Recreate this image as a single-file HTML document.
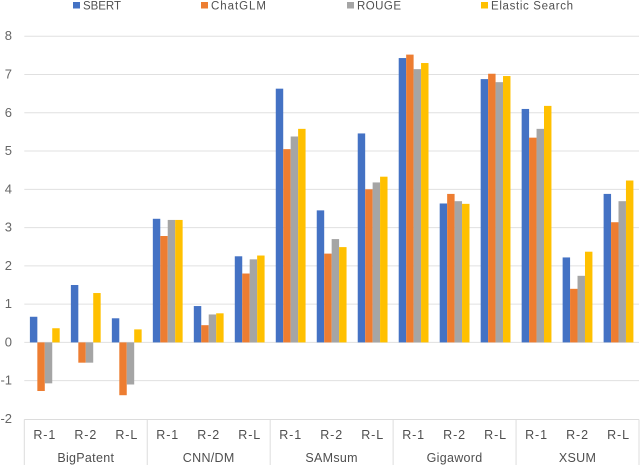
<!DOCTYPE html>
<html>
<head>
<meta charset="utf-8">
<style>
html,body{margin:0;padding:0;background:#fff;width:640px;height:465px;overflow:hidden}
svg{display:block;filter:blur(0.3px)}
text{font-family:"Liberation Sans",sans-serif}
</style>
</head>
<body>
<svg id="chart" xmlns="http://www.w3.org/2000/svg" width="640" height="465" viewBox="0 0 640 465"></svg>
<script>
const groups = ['BigPatent', 'CNN/DM', 'SAMsum', 'Gigaword', 'XSUM'];
const metrics = ['R-1', 'R-2', 'R-L'];
const seriesNames = ['SBERT', 'ChatGLM', 'ROUGE', 'Elastic Search'];
const seriesColors = ['#4472c4', '#ed7d31', '#a5a5a5', '#ffc000'];
const yTicks = [8, 7, 6, 5, 4, 3, 2, 1, 0, -1, -2];
const sbert = [0.67, 1.5, 0.63, 3.23, 0.95, 2.25, 6.63, 3.45, 5.46, 7.43, 3.63, 6.88, 6.1, 2.22, 3.88];
const chatglm = [-1.27, -0.53, -1.38, 2.78, 0.45, 1.8, 5.05, 2.32, 4.0, 7.52, 3.88, 7.02, 5.35, 1.4, 3.14];
const rouge = [-1.07, -0.53, -1.1, 3.2, 0.73, 2.17, 5.38, 2.7, 4.18, 7.14, 3.69, 6.8, 5.58, 1.74, 3.69];
const elastic = [0.37, 1.29, 0.34, 3.2, 0.76, 2.27, 5.58, 2.49, 4.33, 7.3, 3.62, 6.96, 6.18, 2.37, 4.23];
const allSeries = [sbert, chatglm, rouge, elastic];

const NS = 'http://www.w3.org/2000/svg';
const svg = document.getElementById('chart');
const plotLeft = 24.3, plotRight = 639, plotBottom = 419.5;
const catCount = groups.length * metrics.length;
const catW = (plotRight - plotLeft) / catCount;
const barW = 7.45;
const yScale = v => 342.4 - 38.27 * v;
const xScale = (c, s) => plotLeft + catW * (c + 0.5) + barW * (s - 2);

function make(tag, attrs, txt) {
  const el = document.createElementNS(NS, tag);
  for (const k in attrs) el.setAttribute(k, attrs[k]);
  if (txt !== undefined) el.textContent = txt;
  svg.appendChild(el);
  return el;
}

yTicks.forEach(t => {
  if (t !== -2) {
    const g = make('line', {x1: plotLeft, x2: plotRight, y1: yScale(t), y2: yScale(t), stroke: '#e0e0e0', 'stroke-width': 1});
    
    
  }
  const l = make('text', {x: 12, y: yScale(t) + 4, 'text-anchor': 'end', 'font-size': 13, fill: '#666'}, String(t));
  
  
});

allSeries.forEach((vals, s) => {
  vals.forEach((v, c) => {
    const y0 = yScale(0), y1 = yScale(v);
    const r = make('rect', {x: xScale(c, s), y: Math.min(y0, y1), width: barW, height: Math.abs(y1 - y0), fill: seriesColors[s]});
    
    
  });
});

const axisPath = make('line', {x1: plotLeft, x2: plotRight, y1: plotBottom, y2: plotBottom, stroke: '#dcdcdc', 'stroke-width': 1});



for (let i = 0; i <= groups.length; i++) {
  const x = plotLeft + catW * metrics.length * i;
  const sep = make('line', {x1: x, x2: x, y1: plotBottom, y2: 465, stroke: '#dcdcdc', 'stroke-width': 1});
  
  
}

for (let c = 0; c < catCount; c++) {
  const m = make('text', {x: plotLeft + catW * (c + 0.5), y: 439, 'text-anchor': 'middle', 'font-size': 12.5, 'letter-spacing': 0.9, fill: '#4f4f4f'}, metrics[c % metrics.length]);
  
  
}

groups.forEach((g, i) => {
  const t = make('text', {x: plotLeft + catW * metrics.length * (i + 0.5), y: 462, 'text-anchor': 'middle', 'font-size': 12.5, 'letter-spacing': 0.3, fill: '#4f4f4f'}, g);
  
  
});

const legendOrder = seriesNames.map((n, i) => i);
const legendStep = [73, 201, 347, 481];
const legendLabelWidth = [38, 55, 44, 82];
legendOrder.forEach(i => {
  const sw = make('rect', {x: legendStep[i], y: 2, width: 7, height: 6.5, fill: seriesColors[i]});
  
  
  const lt = make('text', {x: legendStep[i] + 10, y: 9.5, 'font-size': 11.5, textLength: legendLabelWidth[i], lengthAdjust: 'spacing', fill: '#505050'}, seriesNames[i]);
  
  
});
</script>
</body>
</html>
